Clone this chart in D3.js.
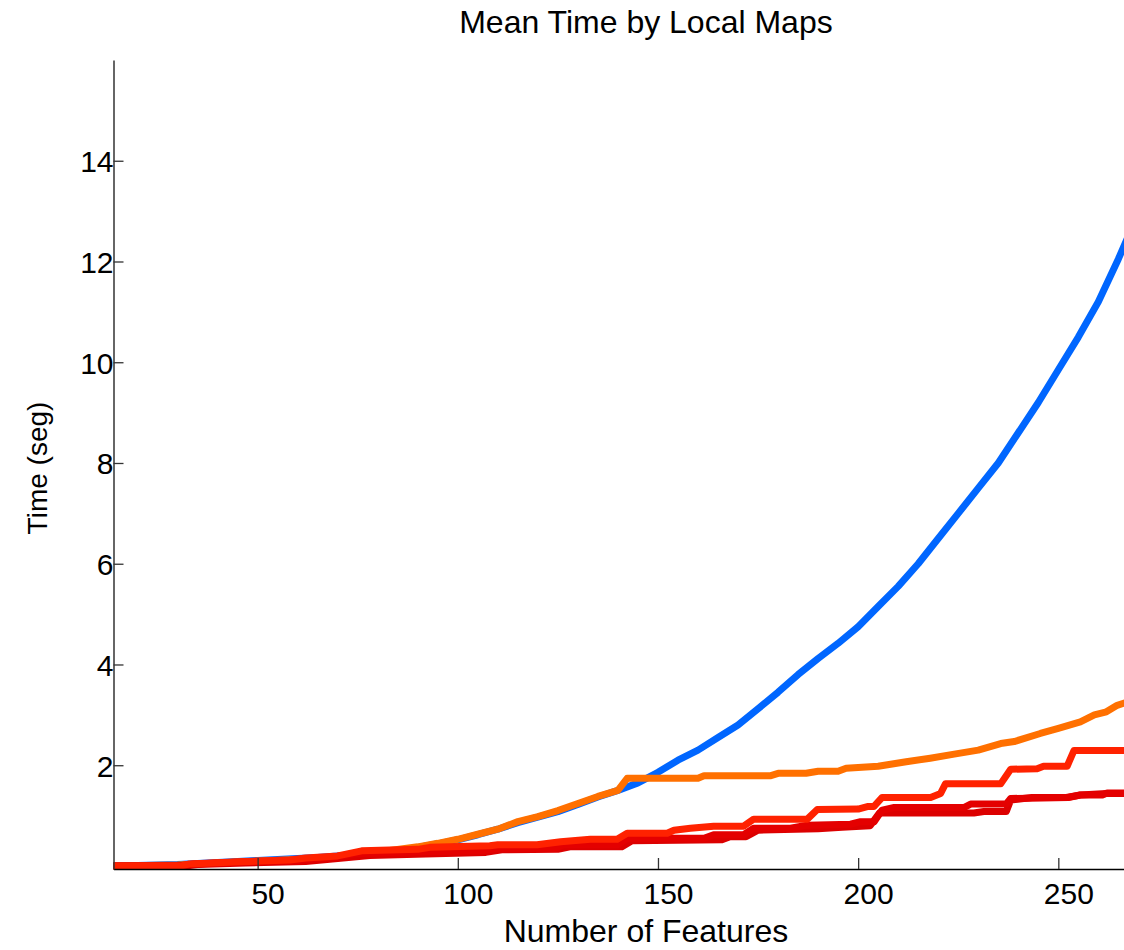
<!DOCTYPE html>
<html>
<head>
<meta charset="utf-8">
<script src="https://cdn.jsdelivr.net/npm/d3@7"></script>
<style>
  html, body { margin: 0; padding: 0; background: #fff; }
  svg { display: block; font-family: "Liberation Sans", Arial, Helvetica, sans-serif; }
</style>
</head>
<body>
<svg id="chart" width="1124" height="950"></svg>
<script>
// Mean processing time (s) against number of map features, per method.
const xTicks = [50, 100, 150, 200, 250];
const yTicks = [2, 4, 6, 8, 10, 12, 14];

const blueFeatures = [14, 20, 25, 30, 35, 40, 45, 50, 55, 60, 65, 70, 75, 80, 85, 90, 95, 100, 105, 110, 115, 120, 125, 130, 135, 140, 145, 150, 155, 160, 165, 170, 175, 180, 185, 190, 195, 200, 205, 210, 215, 220, 225, 230, 235, 240, 245, 250, 255, 260, 265, 268];
const blueTime = [0, 0.01, 0.02, 0.03, 0.05, 0.07, 0.09, 0.11, 0.13, 0.15, 0.17, 0.2, 0.23, 0.27, 0.31, 0.37, 0.44, 0.52, 0.62, 0.73, 0.86, 0.97, 1.08, 1.22, 1.37, 1.5, 1.65, 1.86, 2.1, 2.3, 2.55, 2.8, 3.12, 3.45, 3.8, 4.12, 4.42, 4.75, 5.15, 5.55, 6.0, 6.5, 7.0, 7.5, 8.0, 8.6, 9.2, 9.85, 10.5, 11.2, 12.05, 12.6];

const orangeFeatures = [14, 30, 45, 60, 70, 77, 84, 90, 95, 100, 105, 110, 115, 120, 125, 130, 135, 140, 142.3, 160, 161.5, 178, 180, 187, 190, 195, 197, 205, 212, 218, 224, 230, 235.6, 239, 245.5, 250, 255.5, 259, 262, 264.7, 268];
const orangeTime = [0, 0.02, 0.08, 0.13, 0.18, 0.25, 0.32, 0.38, 0.45, 0.53, 0.63, 0.73, 0.88, 0.98, 1.1, 1.24, 1.38, 1.5, 1.74, 1.74, 1.79, 1.79, 1.84, 1.84, 1.88, 1.88, 1.94, 1.98, 2.07, 2.14, 2.22, 2.3, 2.43, 2.47, 2.63, 2.73, 2.86, 3.0, 3.06, 3.19, 3.27];

const darkBFeatures = [14, 32, 35, 47, 62, 70, 78, 92, 107, 111, 125, 128, 141, 143.5, 166, 168, 172, 175, 190, 196, 203, 205.3, 228.9, 231.4, 237, 238.1, 243.4, 252, 255.5, 262, 268];
const darkBTime = [0, 0, 0.03, 0.06, 0.09, 0.15, 0.21, 0.24, 0.27, 0.32, 0.33, 0.38, 0.38, 0.5, 0.52, 0.58, 0.58, 0.71, 0.74, 0.77, 0.8, 1.05, 1.05, 1.08, 1.08, 1.31, 1.36, 1.36, 1.41, 1.44, 1.44];

const darkAFeatures = [14, 30, 34, 46, 60, 68, 75, 90, 106, 110, 124, 126.5, 139.8, 142.3, 161.5, 163.9, 171.4, 173.9, 183.1, 187.3, 198.1, 200.6, 204, 206, 209, 226.4, 228.1, 237, 238.1, 252.5, 255.5, 261, 262.2, 268];
const darkATime = [0, 0, 0.04, 0.08, 0.11, 0.17, 0.25, 0.28, 0.3, 0.35, 0.35, 0.42, 0.42, 0.55, 0.55, 0.62, 0.62, 0.75, 0.75, 0.81, 0.83, 0.88, 0.88, 1.11, 1.16, 1.16, 1.23, 1.23, 1.34, 1.36, 1.41, 1.41, 1.45, 1.45];

const redFeatures = [14, 31, 33, 44, 58, 62, 70, 76, 90, 93, 108, 110, 119.8, 125.7, 133.1, 139.8, 142.3, 152.3, 154, 158.1, 163.9, 171.4, 173.9, 187.3, 189.8, 200, 202.3, 203.9, 206, 218.1, 220.6, 221.8, 235.6, 238.1, 244.7, 246.3, 252.2, 253.9, 268];
const redTime = [0, 0, 0.04, 0.08, 0.12, 0.16, 0.2, 0.3, 0.33, 0.37, 0.4, 0.42, 0.42, 0.48, 0.53, 0.53, 0.65, 0.65, 0.71, 0.75, 0.79, 0.79, 0.93, 0.93, 1.12, 1.13, 1.18, 1.18, 1.36, 1.36, 1.44, 1.63, 1.63, 1.92, 1.93, 1.98, 1.98, 2.29, 2.29];

const seriesColors = ["#0066ff", "#ff7000", "#dc0000", "#e40000", "#ff2200"];
const seriesList = [
  [blueFeatures, blueTime],
  [orangeFeatures, orangeTime],
  [darkBFeatures, darkBTime],
  [darkAFeatures, darkATime],
  [redFeatures, redTime]
];

const svg = d3.select("#chart");
svg.append("rect").attr("width", 1124).attr("height", 950).attr("fill", "#fff");

const plotLeft = 113.5, plotBottom = 869, plotTop = 60;
const x = d3.scaleLinear().domain([14, 280]).range([plotLeft, plotLeft + 266 * 4.0035]);
const y = d3.scaleLinear().domain([-0.06, 16]).range([plotBottom, plotTop]);

const tickFont = 30;
const labelFont = 32;

// series lines
const line = d3.line().x(d => x(d[0])).y(d => y(d[1]));
seriesList.forEach((s, i) => {
  const pts = s[0].map((f, j) => [f, s[1][j]]);
  svg.append("path")
    .datum(pts)
    .attr("d", line)
    .attr("fill", "none")
    .attr("stroke", seriesColors[i])
    .attr("stroke-width", 7)
    .attr("stroke-linejoin", "round");
});

// x axis
const xAxis = svg.append("g")
  .attr("transform", `translate(0,${plotBottom})`)
  .call(d3.axisBottom(x).tickValues(xTicks).tickSizeInner(-11).tickSizeOuter(0).tickFormat(d3.format("d")));
xAxis.select(".domain").attr("stroke", "#000").attr("stroke-width", 1.5);
xAxis.selectAll(".tick line").attr("stroke", "#333").attr("stroke-width", 1.3);
xAxis.selectAll(".tick text")
  .attr("y", 35).attr("dy", 0).attr("dx", 10)
  .attr("font-size", tickFont).attr("fill", "#000")
  .attr("font-family", "Liberation Sans, Arial, sans-serif");

// y axis
const yAxis = svg.append("g")
  .attr("transform", `translate(${plotLeft},0)`)
  .call(d3.axisLeft(y).tickValues(yTicks).tickSizeInner(-10).tickSizeOuter(0).tickPadding(0).tickFormat(d3.format("d")));
yAxis.select(".domain").attr("stroke", "#333").attr("stroke-width", 1.5);
yAxis.selectAll(".tick line").attr("stroke", "#333").attr("stroke-width", 1.3);
yAxis.selectAll(".tick text")
  .attr("x", 0).attr("dy", "0.36em")
  .attr("font-size", tickFont).attr("fill", "#000")
  .attr("font-family", "Liberation Sans, Arial, sans-serif");

// title and axis labels
const midX = (x.range()[0] + x.range()[1]) / 2;
svg.append("text")
  .attr("x", midX).attr("y", 33)
  .attr("text-anchor", "middle")
  .attr("font-size", labelFont)
  .text("Mean Time by Local Maps");

svg.append("text")
  .attr("x", midX).attr("y", 942)
  .attr("text-anchor", "middle")
  .attr("font-size", labelFont)
  .text("Number of Features");

svg.append("text")
  .attr("transform", `translate(47,468) rotate(-90)`)
  .attr("text-anchor", "middle")
  .attr("font-size", 28)
  .text("Time (seg)");
</script>
</body>
</html>
